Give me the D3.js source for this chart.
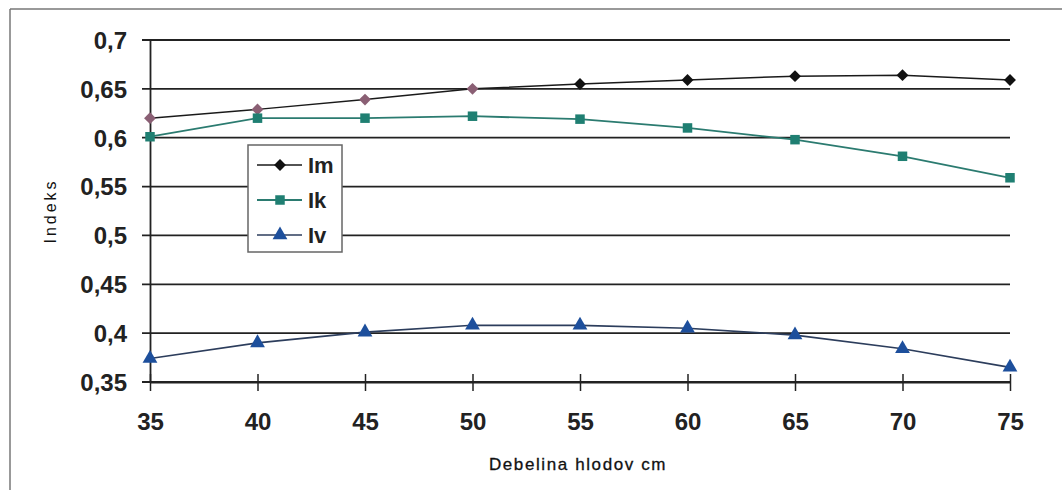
<!DOCTYPE html>
<html><head><meta charset="utf-8">
<script src="https://cdn.jsdelivr.net/npm/d3@7"></script>
<style>body{margin:0;background:#fff}svg{display:block}</style>
</head><body>
<svg id="c" width="1062" height="490"></svg>
<script>
const categories = [35, 40, 45, 50, 55, 60, 65, 70, 75];
const seriesNames = ["Im", "Ik", "Iv"];
const imValues = [0.620, 0.629, 0.639, 0.650, 0.655, 0.659, 0.663, 0.664, 0.659];
const ikValues = [0.601, 0.620, 0.620, 0.622, 0.619, 0.610, 0.598, 0.581, 0.559];
const ivValues = [0.374, 0.390, 0.401, 0.408, 0.408, 0.405, 0.398, 0.384, 0.365];
const yTicks = [0.35, 0.4, 0.45, 0.5, 0.55, 0.6, 0.65, 0.7];
const yTickLabels = ["0,35", "0,4", "0,45", "0,5", "0,55", "0,6", "0,65", "0,7"];
const xTitle = "Debelina hlodov cm";
const yTitle = "Indeks";

const svg = d3.select("#c");
const x = d3.scaleLinear().domain([35, 75]).range([150, 1010]);
const y = d3.scaleLinear().domain([0.35, 0.7]).range([382, 40]);
const FONT = "Liberation Sans, Arial, sans-serif";

// outer frame
svg.append("line").attr("x1", 10).attr("x2", 1062).attr("y1", 9).attr("y2", 9).attr("stroke", "#777").attr("stroke-width", 1.5);
svg.append("line").attr("x1", 10).attr("x2", 10).attr("y1", 9).attr("y2", 490).attr("stroke", "#777").attr("stroke-width", 1.5);

// gridlines
svg.append("g").selectAll("line").data(yTicks).join("line")
  .attr("x1", 142).attr("x2", x(75)).attr("y1", d => y(d)).attr("y2", d => y(d))
  .attr("stroke", "#222").attr("stroke-width", 1.8);

// y axis
const yAxis = d3.axisLeft(y).tickValues(yTicks).tickSize(0).tickPadding(23)
  .tickFormat((d, i) => yTickLabels[i]);
const gy = svg.append("g").attr("transform", `translate(${x(35)},0)`).call(yAxis);
gy.select(".domain").attr("stroke", "#222").attr("stroke-width", 1.8);
gy.selectAll("text").attr("font-family", FONT)
  .attr("font-weight", "bold").attr("font-size", 24).attr("fill", "#222").attr("dy", "0.35em");

// x axis
const xAxis = d3.axisBottom(x).tickValues(categories).tickSizeInner(9).tickSizeOuter(0).tickPadding(22);
const gx = svg.append("g").attr("transform", `translate(0,${y(0.35)})`).call(xAxis);
gx.select(".domain").attr("stroke", "#222").attr("stroke-width", 1.8);
gx.selectAll(".tick line").attr("stroke", "#222").attr("stroke-width", 1.5).attr("y1", -8);
gx.selectAll("text").attr("font-family", FONT)
  .attr("font-weight", "bold").attr("font-size", 24).attr("fill", "#222");

// titles
svg.append("text").attr("x", 578).attr("y", 470).attr("text-anchor", "middle")
  .attr("font-family", FONT).attr("font-size", 17)
  .attr("letter-spacing", 1.6).attr("fill", "#111").attr("stroke", "#111").attr("stroke-width", 0.3)
  .text(xTitle);
svg.append("text").attr("transform", "translate(56,211) rotate(-90)").attr("text-anchor", "middle")
  .attr("font-family", FONT).attr("font-size", 16)
  .attr("letter-spacing", 3).attr("fill", "#111").text(yTitle);

const line = d3.line().x((d, i) => x(categories[i])).y(d => y(d));
const styles = {
  Im: {line: "#1a1a1a", fill: "#111", w: 1.5},
  Ik: {line: "#2b7b70", fill: "#1f7f72", w: 1.8},
  Iv: {line: "#2c3d5c", fill: "#1d4f9c", w: 1.6}
};
const imColors = ["#8a5f74", "#8a5f74", "#8a5f74", "#8a5f74", "#111", "#111", "#111", "#111", "#111"];

const data = {Im: imValues, Ik: ikValues, Iv: ivValues};
const symbols = {Im: d3.symbolDiamond2, Ik: d3.symbolSquare2, Iv: d3.symbolTriangle};
const sizes = {Im: 90, Ik: 115, Iv: 95};

seriesNames.forEach(name => {
  const vals = data[name];
  svg.append("path").datum(vals).attr("d", line).attr("fill", "none")
    .attr("stroke", styles[name].line).attr("stroke-width", styles[name].w);
  const sym = d3.symbol().type(symbols[name]).size(sizes[name]);
  svg.append("g").selectAll("path").data(vals).join("path")
    .attr("d", sym)
    .attr("transform", (d, i) => `translate(${x(categories[i])},${y(d)})`)
    .attr("fill", (d, i) => name === "Im" ? imColors[i] : styles[name].fill);
});

// legend
const lg = svg.append("g");
lg.append("rect").attr("x", 248).attr("y", 145).attr("width", 94).attr("height", 107)
  .attr("fill", "#fff").attr("stroke", "#666").attr("stroke-width", 1.5);
seriesNames.forEach((name, i) => {
  const cy = 165 + i * 35;
  lg.append("line").attr("x1", 257).attr("x2", 302).attr("y1", cy).attr("y2", cy)
    .attr("stroke", styles[name].line).attr("stroke-width", styles[name].w);
  lg.append("path").attr("d", d3.symbol().type(symbols[name]).size(sizes[name]))
    .attr("transform", `translate(280,${cy})`).attr("fill", styles[name].fill);
  lg.append("text").attr("x", 308).attr("y", cy).attr("dy", "0.36em")
    .attr("font-family", FONT).attr("font-weight", "bold")
    .attr("font-size", 22).attr("fill", "#222").text(name);
});
</script>
</body></html>
